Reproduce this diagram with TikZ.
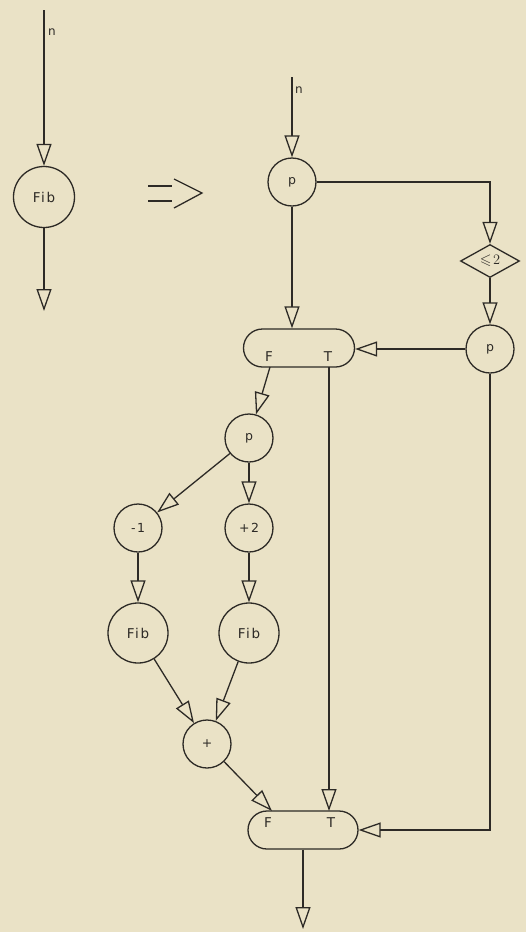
\documentclass[tikz,border=0pt]{standalone}
\usepackage{fontspec}
\usepackage{amssymb}
\usetikzlibrary{arrows.meta,shapes.geometric,shapes.misc}
\newfontfamily\labfont[LetterSpace=12]{DejaVu Sans}
\definecolor{paper}{RGB}{234,226,198}
\definecolor{ink}{RGB}{45,42,38}
\begin{document}
\begin{tikzpicture}[x=1pt,y=-1pt,
  every node/.style={text=ink},
  line/.style={draw=ink,line width=1.3pt},
  arr/.style={line,-{Triangle[open,length=22pt,width=15pt,line width=1.3pt]}},
  circ/.style={circle,draw=ink,line width=1.3pt,minimum size=48pt,inner sep=0pt,font=\labfont\fontsize{12.5}{14}\selectfont},
  bigcirc/.style={circ,minimum size=61pt,font=\labfont\fontsize{13.5}{15}\selectfont},
  merge/.style={rounded rectangle,draw=ink,line width=1.3pt,minimum width=111pt,minimum height=38pt,inner sep=0pt},
  lab/.style={font=\labfont\fontsize{13.5}{15}\selectfont,inner sep=0pt},
  small/.style={font=\labfont\fontsize{12}{13}\selectfont,inner sep=0pt}]
\fill[paper] (0,0) rectangle (526,932);
\useasboundingbox (0,0) rectangle (526,932);
% left part
\coordinate (Lin) at (44,10);
\node[bigcirc] (fibL) at (44,197) {Fib};
\coordinate (Lout) at (44,311);
\node[small] (nL) at (52,32) {n};
\draw[arr] (Lin) -- (fibL);
\draw[arr] (fibL) -- (Lout);
% implies
\draw[line] (148,186) -- (172,186);
\draw[line] (148,201) -- (172,201);
\draw[line] (174,179) -- (202,193) -- (174,208);
% right part
\coordinate (Rin) at (292,77);
\node[small] (nR) at (299,90) {n};
\node[circ] (p1) at (292,182) {p};
\node[diamond,draw=ink,line width=1.3pt,aspect=1.8,minimum width=59pt,minimum height=33pt,inner sep=0pt,font=\fontsize{15}{16}\selectfont] (d) at (490,261) {$\leqslant\!2$};
\node[circ] (p2) at (490,349) {p};
\node[merge] (ub) at (299,348) {};
\node[lab] (ubFl) at (269,357) {F};
\node[lab] (ubTl) at (328,357) {T};
\coordinate (ubF) at (270,367);
\coordinate (ubT) at (329,367);
\node[circ] (p3) at (249,438) {p};
\node[circ] (m1) at (138,528) {-1};
\node[circ] (pl2) at (249,528) {+2};
\node[bigcirc,minimum size=60pt] (fib1) at (138,633) {Fib};
\node[bigcirc,minimum size=60pt] (fib2) at (249,633) {Fib};
\node[circ] (plus) at (207,744) {+};
\node[merge,minimum width=110pt] (lb) at (303,830) {};
\node[lab] (lbFl) at (268,823) {F};
\node[lab] (lbTl) at (331,823) {T};
\coordinate (lbF) at (272,811);
\coordinate (lbT) at (329,811);
\coordinate (Rout) at (303,929);
% connectors
\draw[arr] (Rin) -- (p1);
\draw[arr] (p1.south) -- (p1.south |- ub.north);
\draw[arr] (p1.east) -| (d.north);
\draw[arr] (d.south) -- (p2.north);
\draw[arr] (p2.west) -- (ub.east |- p2.west);
\draw[arr] (ubF) -- (p3);
\draw[arr] (p3) -- (m1);
\draw[arr] (p3) -- (pl2);
\draw[arr] (m1) -- (fib1);
\draw[arr] (pl2) -- (fib2);
\draw[arr] (fib1) -- (plus);
\draw[arr] (fib2) -- (plus);
\draw[arr] (plus) -- (lbF);
\draw[arr] (ubT) -- (lbT);
\draw[arr] (p2.south) |- (lb.east);
\draw[arr] (lb.south) -- (Rout);
\end{tikzpicture}
\end{document}
